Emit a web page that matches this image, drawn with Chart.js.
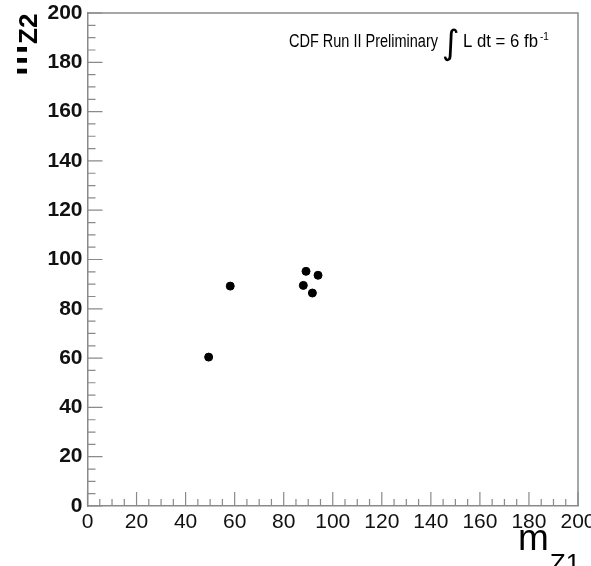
<!DOCTYPE html>
<html>
<head>
<meta charset="utf-8">
<script src="https://cdn.jsdelivr.net/npm/chart.js@4.4.1/dist/chart.umd.min.js"></script>
<style>
  html, body { margin: 0; padding: 0; background: #fff; overflow: hidden; }
  #wrap { width: 620px; height: 566px; }
</style>
</head>
<body>
<div id="wrap"><canvas id="c" width="620" height="566"></canvas></div>
<script>
// ---- data ----
const mZ1 = [49.4, 58.2, 89.1, 94.0, 88.0, 91.7];
const mZ2 = [60.4, 89.2, 95.2, 93.6, 89.5, 86.4];
const xTickValues = [0, 20, 40, 60, 80, 100, 120, 140, 160, 180, 200];
const yTickValues = [0, 20, 40, 60, 80, 100, 120, 140, 160, 180, 200];
const xTitle = ['m', 'Z1'];
const yTitle = ['m', 'Z2'];
const annotationLeft = 'CDF Run II Preliminary';
const annotationRight = 'L dt = 6 fb';
const annotationSup = '-1';

const FONT = '"Liberation Sans", Arial, sans-serif';
const AXIS_COLOR = '#8a8a8a';

const tickPlugin = {
  id: 'rootTicks',
  afterDraw(chart) {
    const { ctx, chartArea: a, scales: { x, y } } = chart;
    ctx.save();
    ctx.strokeStyle = AXIS_COLOR;
    ctx.lineWidth = 1.5;
    // frame (top + right)
    ctx.beginPath();
    ctx.moveTo(a.left, a.top); ctx.lineTo(a.right, a.top); ctx.lineTo(a.right, a.bottom);
    ctx.stroke();
    ctx.lineWidth = 1.2;
    ctx.beginPath();
    for (let v = 0; v <= 200; v += 5) {
      const major = v % 20 === 0;
      const px = x.getPixelForValue(v);
      ctx.moveTo(px, a.bottom); ctx.lineTo(px, a.bottom - (major ? 14 : 7));
      const py = y.getPixelForValue(v);
      ctx.moveTo(a.left, py); ctx.lineTo(a.left + (major ? 15 : 8), py);
    }
    ctx.stroke();
    ctx.restore();

    // axis titles
    ctx.save();
    ctx.fillStyle = '#000';
    ctx.textAlign = 'left';
    ctx.textBaseline = 'alphabetic';
    // x title
    ctx.font = '37px ' + FONT;
    ctx.fillText(xTitle[0], 518, 550);
    const wm = ctx.measureText(xTitle[0]).width;
    ctx.font = '26px ' + FONT;
    ctx.fillText(xTitle[1], 518 + wm + 1, 572);
    ctx.restore();

    // y title (rotated, clipped at left like the reference)
    ctx.save();
    ctx.beginPath(); ctx.rect(17, 0, 60, 100); ctx.clip();
    ctx.translate(27, 76);
    ctx.rotate(-Math.PI / 2);
    ctx.fillStyle = '#000';
    ctx.font = 'bold 35px ' + FONT;
    ctx.fillText(yTitle[0], 0, 0);
    const wm2 = ctx.measureText(yTitle[0]).width;
    ctx.font = 'bold 26px ' + FONT;
    ctx.fillText(yTitle[1], wm2 + 1, 10);
    ctx.restore();

    // annotation
    ctx.save();
    ctx.fillStyle = '#000';
    ctx.font = '18px ' + FONT;
    let w = ctx.measureText(annotationLeft).width;
    ctx.translate(289, 47);
    ctx.scale(149 / w, 1);
    ctx.fillText(annotationLeft, 0, 0);
    ctx.restore();

    ctx.save();
    ctx.fillStyle = '#000';
    ctx.font = '34px "DejaVu Sans", sans-serif';
    ctx.fillText('\u222B', 442, 54);
    ctx.restore();

    ctx.save();
    ctx.fillStyle = '#000';
    ctx.font = '18px ' + FONT;
    w = ctx.measureText(annotationRight).width;
    ctx.translate(463, 47);
    ctx.scale(75 / w, 1);
    ctx.fillText(annotationRight, 0, 0);
    ctx.restore();

    ctx.save();
    ctx.fillStyle = '#000';
    ctx.font = '10px ' + FONT;
    ctx.fillText(annotationSup, 540, 40);
    ctx.restore();
  }
};

new Chart(document.getElementById('c'), {
  type: 'scatter',
  data: {
    datasets: [{
      data: mZ1.map((v, i) => ({ x: v, y: mZ2[i] })),
      backgroundColor: '#000',
      borderColor: '#000',
      pointRadius: 4,
      pointHoverRadius: 4
    }]
  },
  options: {
    responsive: false,
    animation: false,
    devicePixelRatio: 1,
    layout: { padding: { left: 0, top: 13, right: 42, bottom: 0 } },
    plugins: { legend: { display: false }, tooltip: { enabled: false } },
    scales: {
      x: {
        type: 'linear', min: 0, max: 200,
        afterBuildTicks(scale) { scale.ticks = xTickValues.map(v => ({ value: v })); },
        afterFit(scale) { scale.height = 60; scale.paddingLeft = 0; scale.paddingRight = 0; },
        grid: { display: false, drawTicks: false },
        border: { display: true, color: AXIS_COLOR, width: 1.5 },
        ticks: { color: '#111', font: { family: FONT, size: 21 }, padding: 4, maxRotation: 0, autoSkip: false }
      },
      y: {
        type: 'linear', min: 0, max: 200,
        afterBuildTicks(scale) { scale.ticks = yTickValues.map(v => ({ value: v })); },
        afterFit(scale) { scale.width = 87.5; scale.paddingTop = 0; scale.paddingBottom = 0; },
        grid: { display: false, drawTicks: false },
        border: { display: true, color: AXIS_COLOR, width: 1.5 },
        ticks: { color: '#111', font: { family: FONT, size: 21, weight: 'bold' }, padding: 5, autoSkip: false }
      }
    }
  },
  plugins: [tickPlugin]
});
</script>
</body>
</html>
